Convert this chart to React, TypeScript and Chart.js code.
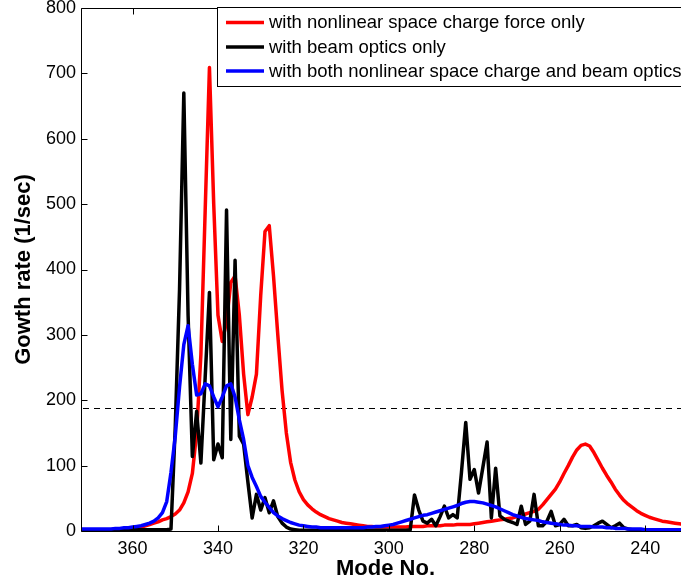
import React, { useEffect, useRef } from "react";
import { Chart, registerables } from "chart.js";

Chart.register(...registerables);

// Mode numbers, high to low
const modeNo = [
  372, 371, 370, 369, 368, 367, 366, 365, 364, 363,
  362, 361, 360, 359, 358, 357, 356, 355, 354, 353,
  352, 351, 350, 349, 348, 347, 346, 345, 344, 343,
  342, 341, 340, 339, 338, 337, 336, 335, 334, 333,
  332, 331, 330, 329, 328, 327, 326, 325, 324, 323,
  322, 321, 320, 319, 318, 317, 316, 315, 314, 313,
  312, 311, 310, 309, 308, 307, 306, 305, 304, 303,
  302, 301, 300, 299, 298, 297, 296, 295, 294, 293,
  292, 291, 290, 289, 288, 287, 286, 285, 284, 283,
  282, 281, 280, 279, 278, 277, 276, 275, 274, 273,
  272, 271, 270, 269, 268, 267, 266, 265, 264, 263,
  262, 261, 260, 259, 258, 257, 256, 255, 254, 253,
  252, 251, 250, 249, 248, 247, 246, 245, 244, 243,
  242, 241, 240, 239, 238, 237, 236, 235, 234, 233,
  232, 231, 230,
];

// Growth rate (1/sec): nonlinear space charge force only
const spaceChargeRate = [
  1, 1, 1, 1, 2, 2, 2, 2, 3, 3,
  3, 4, 4, 5, 6, 8, 10, 12, 14, 17,
  19, 22, 26, 32, 43, 60, 88, 150, 270, 490,
  709, 500, 330, 290, 320, 380, 390, 330, 240, 178,
  205, 240, 360, 458, 467, 390, 300, 215, 150, 105,
  78, 60, 48, 40, 34, 29, 25, 22, 19, 17,
  15, 13, 12, 11, 10, 9, 8, 7, 7, 6,
  6, 6, 6, 6, 6, 6, 6, 7, 7, 7,
  7, 8, 8, 8, 8, 9, 9, 9, 10, 10,
  10, 10, 11, 12, 13, 14, 15, 16, 17, 18,
  19, 20, 22, 24, 26, 28, 30, 33, 40, 48,
  56, 64, 75, 88, 100, 113, 124, 131, 133, 130,
  120, 108, 96, 85, 75, 64, 55, 47, 41, 36,
  31, 27, 24, 21, 19, 17, 15, 14, 13, 12,
  11, 10, 10,
];

// Growth rate (1/sec): beam optics only
const beamOpticsRate = [
  2, 2, 2, 2, 2, 2, 2, 2, 2, 2,
  2, 2, 2, 2, 2, 2, 2, 2, 2, 2,
  2, 3, 160, 370, 670, 330, 114, 183, 104, 235,
  365, 109, 133, 112, 491, 140, 414, 145, 133, 75,
  20, 56, 32, 51, 28, 46, 22, 12, 6, 3,
  2, 1, 1, 1, 1, 1, 1, 1, 1, 1,
  1, 1, 1, 1, 1, 1, 1, 1, 1, 1,
  1, 1, 1, 1, 1, 1, 1, 2, 55, 32,
  15, 12, 18, 8, 22, 38, 20, 25, 20, 90,
  166, 79, 94, 58, 97, 136, 20, 96, 23, 18,
  15, 13, 10, 38, 10, 15, 56, 8, 8, 15,
  30, 8, 10, 18, 8, 8, 10, 5, 4, 5,
  8, 12, 15, 10, 5, 8, 12, 5, 3, 2,
  2, 1, 1, 1, 1, 1, 1, 1, 1, 1,
  1, 1, 1,
];

// Growth rate (1/sec): both nonlinear space charge and beam optics
const combinedRate = [
  3, 3, 3, 3, 3, 3, 3, 3, 4, 4,
  5, 5, 6, 7, 8, 10, 12, 15, 20, 28,
  45, 90, 145, 220, 285, 314, 255, 208, 210, 225,
  222, 205, 190, 205, 222, 225, 205, 170, 140, 100,
  82, 68, 53, 44, 36, 28, 23, 19, 16, 13,
  11, 9, 8, 7, 6, 6, 5, 5, 5, 5,
  5, 5, 5, 5, 5, 5, 5, 6, 6, 7,
  7, 8, 9, 10, 12, 14, 16, 18, 20, 22,
  24, 25, 27, 29, 31, 33, 35, 37, 39, 42,
  44, 45, 45, 44, 43, 41, 39, 37, 34, 31,
  28, 25, 23, 21, 19, 18, 17, 16, 14, 13,
  12, 11, 10, 9, 9, 8, 8, 7, 7, 7,
  6, 6, 6, 5, 5, 4, 4, 4, 3, 3,
  3, 3, 2, 2, 2, 2, 2, 2, 2, 2,
  2, 2, 2,
];

const seriesLabels = [
  "with nonlinear space charge force only",
  "with beam optics only",
  "with both nonlinear space charge and beam optics",
];
const seriesColors = ["#ff0000", "#000000", "#0000ff"];

const xTickValues = [360, 340, 320, 300, 280, 260, 240];
const yTickValues = [0, 100, 200, 300, 400, 500, 600, 700, 800];
const thresholdRate = 188;

const FONT = "'Liberation Sans', Arial, Helvetica, sans-serif";
const CANVAS_W = 690;
const CANVAS_H = 584;
const LINE_W = 3.5;

const toPoints = (values: number[]) =>
  modeNo.map((m, i) => ({ x: m, y: values[i] }));

// Box axes with inward ticks, dashed threshold and the boxed legend
const figureDecor = {
  id: "figureDecor",
  beforeDatasetsDraw(chart: any) {
    const { ctx, chartArea: a, scales } = chart;
    const y = Math.round(scales.y.getPixelForValue(thresholdRate)) + 0.5;
    ctx.save();
    ctx.strokeStyle = "#000";
    ctx.lineWidth = 1;
    ctx.setLineDash([6, 5]);
    ctx.beginPath();
    ctx.moveTo(a.left + 2, y);
    ctx.lineTo(a.right, y);
    ctx.stroke();
    ctx.restore();
  },
  afterDraw(chart: any) {
    const { ctx, chartArea: a, scales } = chart;
    const L = Math.round(a.left) + 0.5;
    const T = Math.round(a.top) + 0.5;
    const B = Math.round(a.bottom) + 0.5;
    const R = a.right + 2;
    const tick = 6;
    ctx.save();
    ctx.strokeStyle = "#000";
    ctx.lineWidth = 1;
    ctx.beginPath();
    ctx.moveTo(R, T);
    ctx.lineTo(L, T);
    ctx.lineTo(L, B);
    ctx.lineTo(R, B);
    for (const v of xTickValues) {
      const px = Math.round(scales.x.getPixelForValue(v)) + 0.5;
      ctx.moveTo(px, B);
      ctx.lineTo(px, B - tick);
      ctx.moveTo(px, T);
      ctx.lineTo(px, T + tick);
    }
    for (const v of yTickValues) {
      const py = Math.round(scales.y.getPixelForValue(v)) + 0.5;
      ctx.moveTo(L, py);
      ctx.lineTo(L + tick, py);
    }
    ctx.stroke();

    // legend box
    const boxL = 217.5;
    const boxT = 7.5;
    const boxB = 86.5;
    ctx.fillStyle = "#fff";
    ctx.fillRect(boxL, boxT, CANVAS_W - boxL + 10, boxB - boxT);
    ctx.strokeRect(boxL, boxT, CANVAS_W - boxL + 10, boxB - boxT);
    const rowY = [22.5, 47, 71];
    ctx.font = `18.5px ${FONT}`;
    ctx.textBaseline = "middle";
    ctx.textAlign = "left";
    seriesLabels.forEach((label, i) => {
      ctx.strokeStyle = seriesColors[i];
      ctx.lineWidth = LINE_W;
      ctx.beginPath();
      ctx.moveTo(226, rowY[i]);
      ctx.lineTo(264, rowY[i]);
      ctx.stroke();
      ctx.fillStyle = "#000";
      ctx.fillText(label, 269, rowY[i] + 0.5);
    });
    ctx.restore();
  },
};

export default function App() {
  const canvasRef = useRef<HTMLCanvasElement | null>(null);

  useEffect(() => {
    const canvas = canvasRef.current;
    if (!canvas) return;
    const series = [spaceChargeRate, beamOpticsRate, combinedRate];
    const chart = new Chart(canvas, {
      type: "line",
      data: {
        datasets: series.map((values, i) => ({
          label: seriesLabels[i],
          data: toPoints(values),
          borderColor: seriesColors[i],
          backgroundColor: seriesColors[i],
          borderWidth: LINE_W,
          pointRadius: 0,
          tension: 0,
          fill: false,
          order: 3 - i,
          borderJoinStyle: "round" as const,
          borderCapStyle: "round" as const,
        })),
      },
      options: {
        responsive: false,
        maintainAspectRatio: false,
        animation: false,
        devicePixelRatio: 1,
        layout: { padding: { top: 8, right: 0, left: 0, bottom: 0 } },
        plugins: {
          legend: { display: false },
          tooltip: { enabled: false },
        },
        scales: {
          x: {
            type: "linear",
            reverse: true,
            min: 229.5,
            max: 372.07,
            afterBuildTicks: (scale: any) => {
              scale.ticks = xTickValues.map((value) => ({ value }));
            },
            afterFit: (scale: any) => {
              scale.height = 53;
              scale.paddingLeft = 0;
              scale.paddingRight = 0;
            },
            grid: { display: false, drawTicks: false },
            border: { display: false },
            ticks: {
              autoSkip: false,
              maxRotation: 0,
              padding: 7,
              color: "#000",
              font: { family: FONT, size: 18 },
            },
            title: {
              display: true,
              text: "Mode No.",
              color: "#000",
              font: { family: FONT, size: 22, weight: "bold" },
              padding: { top: 0, bottom: 2 },
            },
          },
          y: {
            type: "linear",
            min: 0,
            max: 800,
            afterBuildTicks: (scale: any) => {
              scale.ticks = yTickValues.map((value) => ({ value }));
            },
            afterFit: (scale: any) => {
              scale.width = 81;
              scale.paddingTop = 0;
              scale.paddingBottom = 0;
            },
            grid: { display: false, drawTicks: false },
            border: { display: false },
            ticks: {
              padding: 5,
              color: "#000",
              font: { family: FONT, size: 18 },
            },
            title: {
              display: true,
              text: "Gowth rate (1/sec)",
              color: "#000",
              font: { family: FONT, size: 22, weight: "bold" },
              padding: { top: 11, bottom: 0 },
            },
          },
        },
      },
      plugins: [figureDecor],
    });
    return () => chart.destroy();
  }, []);

  return (
    <div
      style={{
        position: "fixed",
        left: 0,
        top: 0,
        width: 681,
        height: CANVAS_H,
        overflow: "hidden",
        background: "#fff",
      }}
    >
      <canvas
        ref={canvasRef}
        width={CANVAS_W}
        height={CANVAS_H}
        style={{ width: CANVAS_W, height: CANVAS_H, display: "block" }}
      />
    </div>
  );
}
